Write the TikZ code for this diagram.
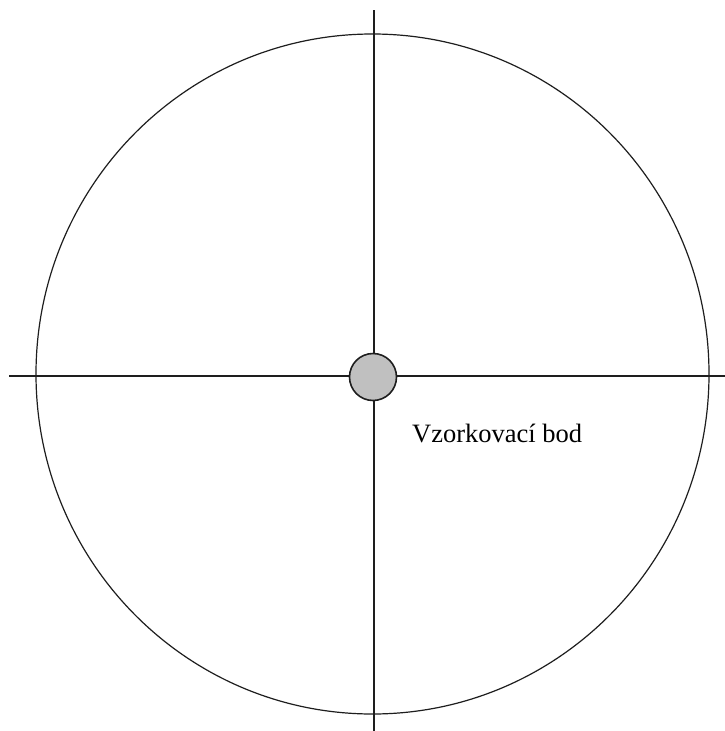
\documentclass[tikz,border=0pt]{standalone}
\usepackage{fontspec}
\setmainfont{Liberation Serif}
\definecolor{linegray}{RGB}{30,30,30}
\definecolor{pointfill}{RGB}{192,192,192}
\begin{document}
\begin{tikzpicture}[x=1pt,y=-1pt,
  axis/.style={draw=linegray,line width=1.6pt},
  rim/.style={draw=linegray,line width=1.2pt},
  samplept/.style={circle,draw=linegray,line width=1.6pt,fill=pointfill,minimum size=47pt,inner sep=0pt},
  lbl/.style={font=\fontsize{26.5}{30}\selectfont,inner sep=0pt,anchor=base west}]
\useasboundingbox (0,0) rectangle (725,731);
\fill[white] (0,0) rectangle (725,731);
\coordinate (c) at (372.5,374);
\coordinate (top) at (374,10);
\coordinate (bot) at (374,731);
\coordinate (left) at (9,376);
\coordinate (right) at (725,376);
\draw[rim] (c) ellipse [x radius=336.5,y radius=340];
\draw[axis] (top) -- (bot);
\draw[axis] (left) -- (right);
\node[samplept] (p) at (373,377) {};
\node[lbl] (t) at (412,442) {Vzorkovací bod};
\end{tikzpicture}
\end{document}
